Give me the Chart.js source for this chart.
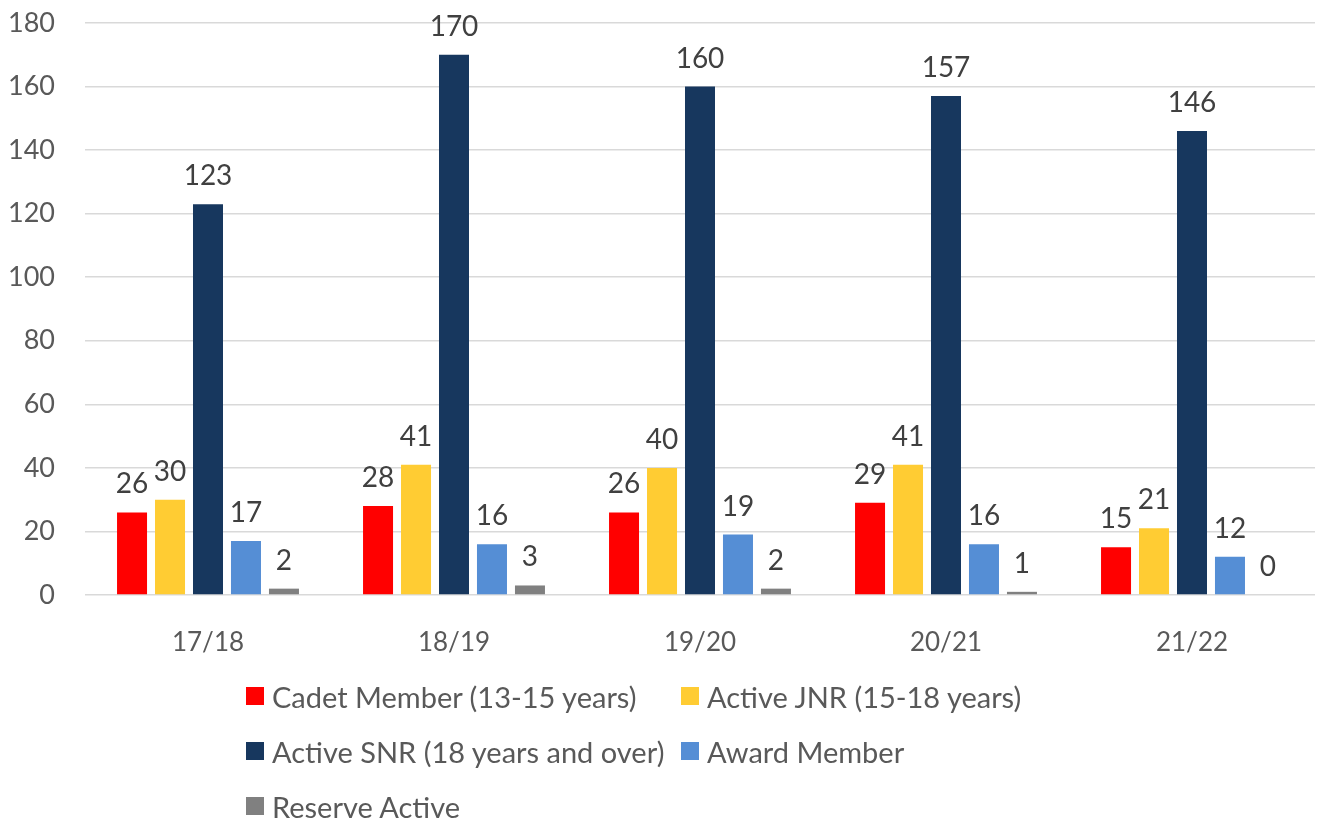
<!DOCTYPE html>
<html>
<head>
<meta charset="utf-8">
<script src="https://cdn.jsdelivr.net/npm/chart.js@4"></script>
<style>
  body { margin: 0; background: #fff; font-family: Lato, "Open Sans", sans-serif; }
  #wrap { position: relative; width: 1322px; height: 819px; }
  #legend { position: absolute; left: 246px; top: 678px; display: grid; grid-template-columns: 435px auto; row-gap: 19px; font-size: 29px; color: #595959; }
  #legend div { display: flex; align-items: center; height: 36px; white-space: nowrap; }
  #legend span { display: inline-block; width: 18px; height: 18px; margin-right: 8px; }
</style>
</head>
<body>
<div id="wrap">
  <canvas id="c" width="1322" height="819"></canvas>
  <div id="legend"></div>
</div>
<script>
const seasons = ["17/18", "18/19", "19/20", "20/21", "21/22"];
const seriesNames = ["Cadet Member (13-15 years)", "Active JNR (15-18 years)", "Active SNR (18 years and over)", "Award Member", "Reserve Active"];
const cadet = [26, 28, 26, 29, 15];
const jnr = [30, 41, 40, 41, 21];
const snr = [123, 170, 160, 157, 146];
const award = [17, 16, 19, 16, 12];
const reserve = [2, 3, 2, 1, 0];
const yTicks = [0, 20, 40, 60, 80, 100, 120, 140, 160, 180];

const colors = ["#ff0000", "#ffcc33", "#17375e", "#558ed5", "#808080"];
const values = [cadet, jnr, snr, award, reserve];

const labelPlugin = {
  id: "barLabels",
  afterDatasetsDraw(chart) {
    const ctx = chart.ctx;
    ctx.save();
    ctx.font = "28px Lato, 'Open Sans', sans-serif";
    ctx.fillStyle = "#404040";
    ctx.textAlign = "center";
    ctx.textBaseline = "alphabetic";
    chart.data.datasets.forEach((ds, i) => {
      chart.getDatasetMeta(i).data.forEach((bar, j) => {
        ctx.fillText(ds.data[j], bar.x, bar.y - 19);
      });
    });
    ctx.restore();
  }
};

new Chart(document.getElementById("c"), {
  type: "bar",
  data: {
    labels: seasons,
    datasets: seriesNames.map((n, i) => ({
      label: n,
      data: values[i],
      backgroundColor: colors[i],
      categoryPercentage: 0.772,
      barPercentage: 0.79
    }))
  },
  options: {
    responsive: false,
    animation: false,
    layout: { padding: { top: 23, right: 7, left: 0, bottom: 0 } },
    plugins: { legend: { display: false }, tooltip: { enabled: false } },
    scales: {
      x: {
        grid: { display: false },
        border: { display: false },
        ticks: { color: "#595959", font: { family: "Lato", size: 26 }, padding: 24 },
        afterFit: s => { s.height = 224; }
      },
      y: {
        min: 0, max: 180,
        afterBuildTicks: s => { s.ticks = yTicks.map(v => ({ value: v })); },
        grid: { color: "#d9d9d9", lineWidth: 1.5, drawTicks: false },
        border: { display: false },
        ticks: { color: "#595959", font: { family: "Lato", size: 27 }, padding: 30 },
        afterFit: s => { s.width = 85; s.paddingTop = 0; s.paddingBottom = 0; }
      }
    }
  },
  plugins: [labelPlugin]
});

const legend = document.getElementById("legend");
seriesNames.forEach((n, i) => {
  const d = document.createElement("div");
  d.innerHTML = `<span style="background:${colors[i]}"></span>${n}`;
  legend.appendChild(d);
});
</script>
</body>
</html>
